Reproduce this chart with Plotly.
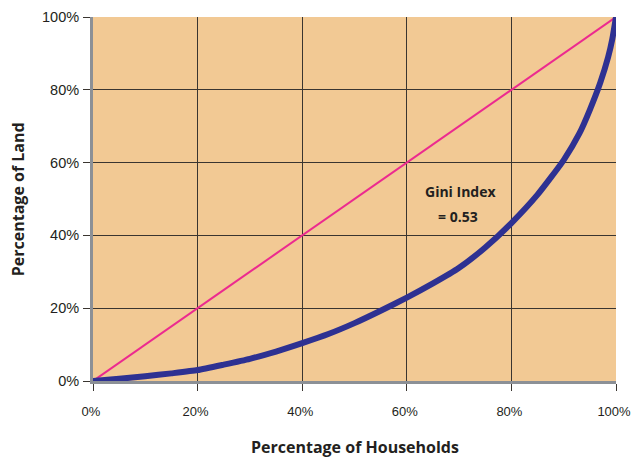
import plotly.graph_objects as go

households = [0, 5, 10, 15, 20, 25, 30, 35, 40, 45, 50, 55, 60, 65, 70, 75, 80, 85, 90, 93, 95, 97, 98.5, 99.3, 100]
land = [0, 0.6, 1.3, 2.1, 3.0, 4.5, 6.1, 8.1, 10.4, 12.9, 15.9, 19.3, 22.9, 26.8, 31.1, 36.7, 43.4, 51.2, 60.7, 68.0, 74.5, 82.0, 89.0, 94.0, 100]
equality_x = [0, 100]
equality_y = [0, 100]
tick_vals = [0, 20, 40, 60, 80, 100]
tick_text = ["0%", "20%", "40%", "60%", "80%", "100%"]

fig = go.Figure()
fig.add_trace(go.Scatter(x=equality_x, y=equality_y, mode="lines",
                         line=dict(color="#EC2A8F", width=2), showlegend=False))
fig.add_trace(go.Scatter(x=households, y=land, mode="lines",
                         line=dict(color="#2E3192", width=6, shape="spline", smoothing=0.5),
                         showlegend=False))

fig.add_annotation(x=70.3, y=52.0, text="<b>Gini Index</b>", showarrow=False,
                   font=dict(family="Open Sans", size=14, color="#231F20"))
fig.add_annotation(x=69.7, y=45.3, text="<b>= 0.53</b>", showarrow=False,
                   font=dict(family="Open Sans", size=14, color="#231F20"))

fig.add_annotation(xref="paper", yref="paper", x=0.5, y=-0.182, yanchor="middle",
                   text="<b>Percentage of Households</b>", showarrow=False,
                   font=dict(family="Open Sans", size=16, color="#231F20"))
fig.add_annotation(xref="paper", yref="paper", x=-0.143, y=0.5, textangle=-90,
                   xanchor="center", yanchor="middle",
                   text="<b>Percentage of Land</b>", showarrow=False,
                   font=dict(family="Open Sans", size=16, color="#231F20"))

axis_common = dict(
    range=[0, 100], tickvals=tick_vals, ticktext=tick_text,
    showgrid=True, gridcolor="#3a3530", gridwidth=1,
    showline=True, linecolor="#8C9096", linewidth=3,
    zeroline=False, ticks="outside", ticklen=7, tickcolor="#3a3530",
    automargin=False, ticklabeloverflow="allow",
)

fig.update_layout(
    width=631, height=458,
    margin=dict(l=93, r=15, t=17, b=77),
    paper_bgcolor="white", plot_bgcolor="#F2C994",
    xaxis=dict(**axis_common, tickfont=dict(family="Liberation Sans", size=13, color="#231F20")),
    yaxis=dict(**axis_common, tickfont=dict(family="Liberation Sans", size=14.5, color="#231F20")),
)
fig.update_xaxes(ticklabelstandoff=9, ticklabelshift=-2)
fig.update_yaxes(ticklabelstandoff=1)

fig.write_html("out.html", config={"displayModeBar": False},
               post_script="document.body.style.margin='0';document.body.style.padding='0';")
